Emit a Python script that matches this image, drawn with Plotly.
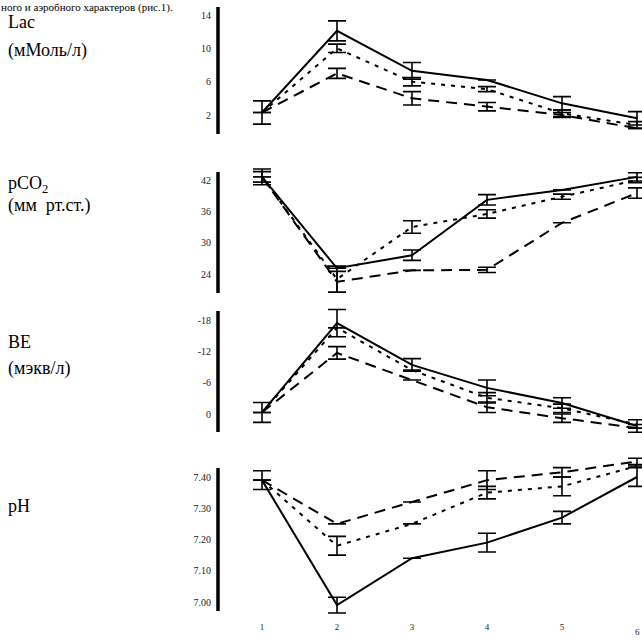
import plotly.graph_objects as go

# ---------------- data ----------------
stages = [1, 2, 3, 4, 5, 6]
stage_labels = ["1", "2", "3", "4", "5", "6"]

# Lac (мМоль/л)
lac_solid = [2.3, 12.1, 7.3, 6.2, 3.4, 1.6]
lac_dashed = [2.3, 10.0, 6.0, 5.1, 2.2, 0.8]
lac_dashdot = [2.3, 7.0, 4.0, 3.0, 2.0, 0.4]
lac_solid_err = [1.4, 1.2, 1.0, 0.0, 0.8, 0.8]
lac_dashed_err = [0.0, 0.5, 0.5, 0.3, 0.4, 0.4]
lac_dashdot_err = [0.0, 0.6, 0.8, 0.5, 0.3, 0.0]
lac_ticks = [2, 6, 10, 14]
lac_ticktext = ["2", "6", "10", "14"]

# pCO2 (мм рт.ст.)
pco2_solid = [42.6, 25.1, 27.6, 38.2, 40.1, 42.6]
pco2_dashed = [42.6, 23.0, 33.0, 35.5, 38.8, 42.0]
pco2_dashdot = [42.6, 22.5, 24.7, 24.8, 33.8, 39.5]
pco2_solid_err = [1.5, 0.0, 1.0, 1.0, 0.0, 0.8]
pco2_dashed_err = [1.0, 2.5, 1.2, 0.8, 0.5, 0.5]
pco2_dashdot_err = [0.0, 2.0, 0.0, 0.5, 0.0, 1.0]
pco2_ticks = [24, 30, 36, 42]
pco2_ticktext = ["24", "30", "36", "42"]

# BE (мэкв/л)
be_solid = [-0.3, -17.4, -9.4, -5.0, -2.1, 2.3]
be_dashed = [-0.3, -16.5, -8.4, -3.1, -1.1, 2.0]
be_dashdot = [-0.3, -11.7, -6.5, -1.3, 0.8, 2.7]
be_solid_err = [1.9, 2.6, 1.2, 1.5, 1.0, 1.2]
be_dashed_err = [0.0, 0.0, 0.0, 1.0, 0.8, 0.0]
be_dashdot_err = [0.0, 1.2, 0.0, 1.0, 0.8, 0.0]
be_ticks = [-18, -12, -6, 0]
be_ticktext = ["-18", "-12", "-6", "0"]

# pH
ph_solid = [7.39, 6.99, 7.14, 7.19, 7.27, 7.40]
ph_dashed = [7.39, 7.18, 7.25, 7.35, 7.37, 7.435]
ph_dashdot = [7.39, 7.25, 7.32, 7.39, 7.415, 7.45]
ph_solid_err = [0.03, 0.025, 0.0, 0.03, 0.02, 0.03]
ph_dashed_err = [0.0, 0.03, 0.0, 0.02, 0.03, 0.0]
ph_dashdot_err = [0.0, 0.0, 0.0, 0.03, 0.015, 0.01]
ph_ticks = [7.00, 7.10, 7.20, 7.30, 7.40]
ph_ticktext = ["7.00", "7.10", "7.20", "7.30", "7.40"]

# ---------------- layout geometry ----------------
W, H = 642, 641
SERIF = "Liberation Serif, Times New Roman, serif"


def frac(p):
    return 1 - p / H


panels = [
    dict(ax="y", top=0, bot=150, v0=2, p0=115, k=100 / 12, line=(7, 134), rev=False,
         series=(lac_solid, lac_dashed, lac_dashdot),
         errs=(lac_solid_err, lac_dashed_err, lac_dashdot_err),
         ticks=lac_ticks, ticktext=lac_ticktext),
    dict(ax="y2", top=160, bot=300, v0=24, p0=274, k=94 / 18, line=(172, 293), rev=False,
         series=(pco2_solid, pco2_dashed, pco2_dashdot),
         errs=(pco2_solid_err, pco2_dashed_err, pco2_dashdot_err),
         ticks=pco2_ticks, ticktext=pco2_ticktext),
    dict(ax="y3", top=300, bot=445, v0=0, p0=414, k=94 / 18, line=(311, 432), rev=True,
         series=(be_solid, be_dashed, be_dashdot),
         errs=(be_solid_err, be_dashed_err, be_dashdot_err),
         ticks=be_ticks, ticktext=be_ticktext),
    dict(ax="y4", top=455, bot=620, v0=7.0, p0=602, k=125 / 0.4, line=(468, 611), rev=False,
         series=(ph_solid, ph_dashed, ph_dashdot),
         errs=(ph_solid_err, ph_dashed_err, ph_dashdot_err),
         ticks=ph_ticks, ticktext=ph_ticktext),
]


def val(panel, p):
    if panel["rev"]:
        return panel["v0"] + (p - panel["p0"]) / panel["k"]
    return panel["v0"] + (panel["p0"] - p) / panel["k"]


X_LEFT_PX, X1_PX, XSTEP = 212, 262, 75
x_lo = 1 - (X1_PX - X_LEFT_PX) / XSTEP
x_hi = 1 + (W - X1_PX) / XSTEP
x_axisline = 1 - (X1_PX - 218) / XSTEP

styles = [
    dict(dash="solid", width=2.0),
    dict(dash="4px,6px", width=2.0),
    dict(dash="11px,7px", width=2.0),
]

fig = go.Figure()
shapes = []
for pn in panels:
    for ys, es, st in zip(pn["series"], pn["errs"], styles):
        fig.add_trace(go.Scatter(
            x=stages, y=ys, xaxis="x", yaxis=pn["ax"], mode="lines",
            line=dict(color="black", width=st["width"], dash=st["dash"]),
            error_y=dict(type="data", array=es, visible=True, color="black",
                         thickness=1.6, width=9),
            showlegend=False, hoverinfo="skip",
        ))
    lo, hi = val(pn, pn["bot"]), val(pn, pn["top"])
    axname = "yaxis" if pn["ax"] == "y" else "yaxis" + pn["ax"][1:]
    fig.layout[axname] = dict(
        domain=[frac(pn["bot"]), frac(pn["top"])],
        range=[lo, hi], anchor="x",
        showgrid=False, zeroline=False, showline=False, ticks="",
        tickmode="array", tickvals=pn["ticks"], ticktext=pn["ticktext"],
        tickfont=dict(family=SERIF, size=10, color="#222"),
        fixedrange=True,
    )
    shapes.append(dict(type="line", xref="x", yref=pn["ax"],
                       x0=x_axisline, x1=x_axisline,
                       y0=val(pn, pn["line"][0]), y1=val(pn, pn["line"][1]),
                       line=dict(color="black", width=3.5)))

fig.update_layout(
    width=W, height=H,
    margin=dict(l=0, r=0, t=0, b=0),
    paper_bgcolor="white", plot_bgcolor="rgba(0,0,0,0)",
    xaxis=dict(domain=[X_LEFT_PX / W, 1], range=[x_lo, x_hi], anchor="y4",
               showgrid=False, zeroline=False, showline=False, ticks="",
               tickmode="array", tickvals=stages[:-1], ticktext=stage_labels[:-1],
               tickfont=dict(family=SERIF, size=9, color="#222"),
               fixedrange=True),
    shapes=shapes,
)

# last stage label sits at the right edge of the figure
fig.add_annotation(xref="x", yref="paper", x=stages[-1], y=frac(632),
                   xanchor="center", yanchor="middle", showarrow=False,
                   text=stage_labels[-1], borderpad=0,
                   font=dict(family=SERIF, size=9, color="#222"))

labels = [
    ("Lac", 22), ("(мМоль/л)", 50),
    ("pCO<sub>2</sub>", 184), ("(мм  рт.ст.)", 206),
    ("BE", 342), ("(мэкв/л)", 368),
    ("pH", 506),
]
for txt, py in labels:
    fig.add_annotation(xref="paper", yref="paper", x=6 / W, y=frac(py),
                       xanchor="left", yanchor="middle", showarrow=False,
                       text=txt, font=dict(family=SERIF, size=18, color="black"))

fig.add_annotation(xref="paper", yref="paper", x=0, y=1,
                   xanchor="left", yanchor="top", showarrow=False, borderpad=0,
                   text="ного и аэробного характеров (рис.1).",
                   font=dict(family=SERIF, size=11, color="black"))

fig.write_html("out.html",
               config={"displayModeBar": False},
               post_script="document.body.style.margin='0';document.body.style.overflow='hidden';")
